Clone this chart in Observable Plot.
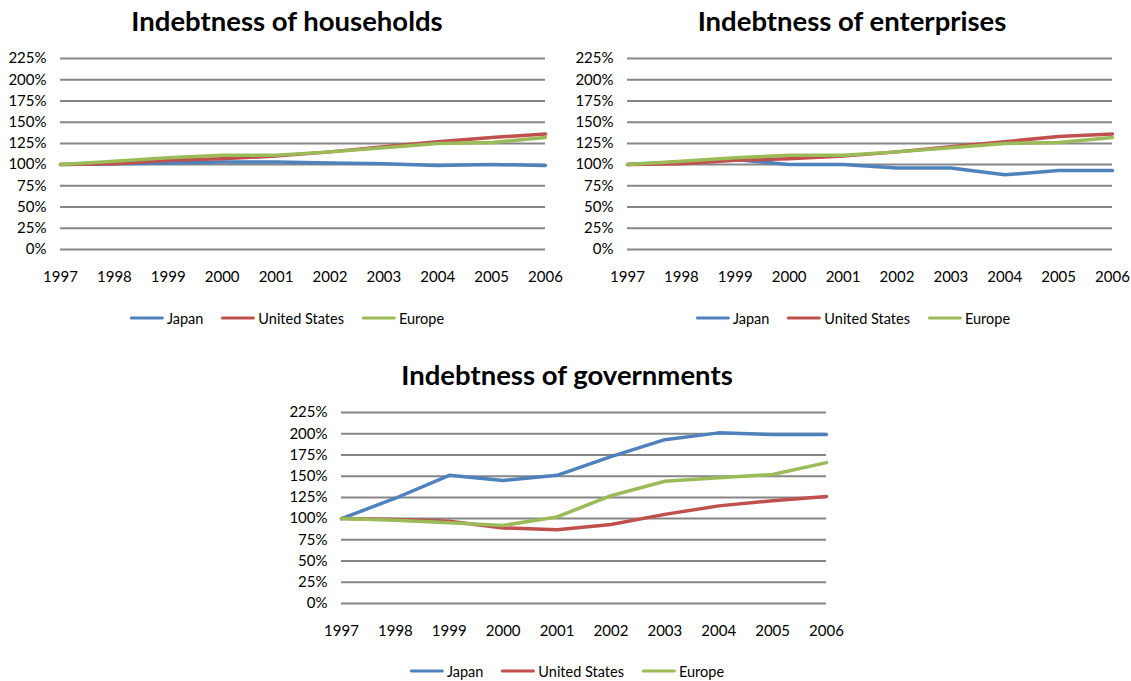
<!DOCTYPE html>
<html>
<head>
<meta charset="utf-8">
<script src="https://cdn.jsdelivr.net/npm/d3@7"></script>
<script src="https://cdn.jsdelivr.net/npm/@observablehq/plot@0.6"></script>
<style>
  body { margin: 0; background: #fff; }
  #root { position: relative; width: 1131px; height: 681px; overflow: hidden;
          font-family: Lato, "Open Sans", sans-serif; color: #000; background: #fff; }
  .panel { position: absolute; }
  .title { position: absolute; font-weight: bold; font-size: 27.5px; white-space: nowrap;
           transform: translate(-50%, -50%); }
  .legend { position: absolute; display: flex; gap: 18px; font-size: 14.5px; white-space: nowrap;
            transform: translate(-50%, -50%); }
  .item { display: flex; align-items: center; gap: 3px; }
  .swatch { width: 34px; height: 3.5px; border-radius: 1.75px; }
</style>
</head>
<body>
<div id="root"></div>
<script>
// Years on the x axis and the percentage ticks on the y axis
const years = [1997, 1998, 1999, 2000, 2001, 2002, 2003, 2004, 2005, 2006];
const yTicks = [0, 25, 50, 75, 100, 125, 150, 175, 200, 225];
const seriesNames = ["Japan", "United States", "Europe"];
const seriesColors = ["#4F81BD", "#C0504D", "#9BBB59"];

// Debt indices, 1997 = 100%
const householdsJapan  = [100, 101, 102, 103, 103, 102, 101, 99, 100, 99];
const householdsUS     = [100, 101, 105, 107, 110, 115, 121, 127, 132, 136];
const householdsEurope = [100, 104, 108, 111, 111, 115, 120, 125, 126, 132];

const enterprisesJapan  = [100, 103, 106, 100, 100, 96, 96, 88, 93, 93];
const enterprisesUS     = [100, 101, 105, 107, 110, 115, 121, 127, 133, 136];
const enterprisesEurope = [100, 104, 108, 111, 111, 115, 120, 125, 126, 132];

const governmentsJapan  = [100, 124, 151, 145, 151, 173, 193, 201, 199, 199];
const governmentsUS     = [100, 99, 97, 89, 87, 93, 105, 115, 121, 126];
const governmentsEurope = [100, 98, 95, 92, 102, 127, 144, 148, 152, 166];

const panels = [
  { title: "Indebtness of households", left: 0, top: 40, titleX: 287, titleY: 20, legendX: 287, legendY: 318,
    series: [householdsJapan, householdsUS, householdsEurope] },
  { title: "Indebtness of enterprises", left: 567, top: 40, titleX: 852, titleY: 20, legendX: 853, legendY: 318,
    series: [enterprisesJapan, enterprisesUS, enterprisesEurope] },
  { title: "Indebtness of governments", left: 281, top: 394, titleX: 567, titleY: 374, legendX: 567, legendY: 671,
    series: [governmentsJapan, governmentsUS, governmentsEurope] }
];

const root = document.getElementById("root");

for (const p of panels) {
  const rows = [];
  p.series.forEach((vals, i) => {
    vals.forEach((v, j) => rows.push({ year: years[j], series: seriesNames[i], value: v }));
  });

  const chart = Plot.plot({
    width: 560,
    height: 250,
    marginLeft: 60,
    marginRight: 15,
    marginTop: 18,
    marginBottom: 41,
    style: { fontFamily: "Lato, 'Open Sans', sans-serif", fontSize: "15px", color: "#000", background: "transparent", overflow: "visible" },
    x: { domain: [1997, 2006] },
    y: { domain: [0, 225] },
    color: { domain: seriesNames, range: seriesColors },
    marks: [
      Plot.ruleY(yTicks, { stroke: "#868686", strokeWidth: 2 }),
      Plot.line(rows, { x: "year", y: "value", z: "series", stroke: "series", strokeWidth: 3.5,
                        strokeLinejoin: "round", strokeLinecap: "round" }),
      Plot.axisX({ ticks: years, tickFormat: d => String(d), tickSize: 0, tickPadding: 22, label: null }),
      Plot.axisY({ ticks: yTicks, tickFormat: d => d + "%", tickSize: 0, tickPadding: 14, label: null })
    ]
  });
  chart.classList.add("panel");
  chart.style.left = p.left + "px";
  chart.style.top = p.top + "px";
  root.appendChild(chart);

  const title = document.createElement("div");
  title.className = "title";
  title.textContent = p.title;
  title.style.left = p.titleX + "px";
  title.style.top = p.titleY + "px";
  root.appendChild(title);

  const legend = document.createElement("div");
  legend.className = "legend";
  legend.style.left = p.legendX + "px";
  legend.style.top = p.legendY + "px";
  seriesNames.forEach((name, i) => {
    const item = document.createElement("div");
    item.className = "item";
    const sw = document.createElement("span");
    sw.className = "swatch";
    sw.style.background = seriesColors[i];
    const label = document.createElement("span");
    label.textContent = name;
    item.appendChild(sw);
    item.appendChild(label);
    legend.appendChild(item);
  });
  root.appendChild(legend);
}
</script>
</body>
</html>
